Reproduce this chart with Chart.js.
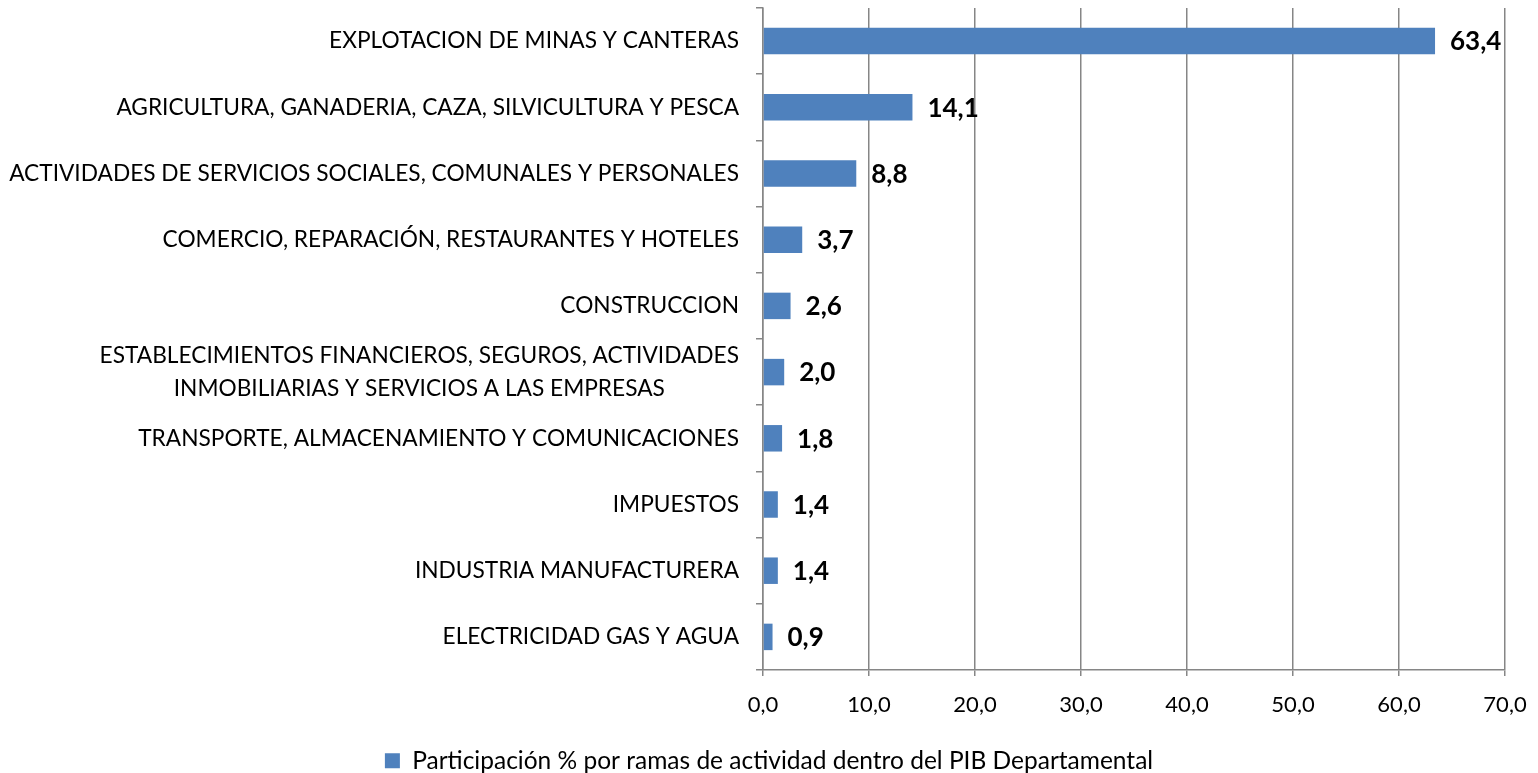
<!DOCTYPE html>
<html>
<head>
<meta charset="utf-8">
<script src="https://cdn.jsdelivr.net/npm/chart.js@4/dist/chart.umd.min.js"></script>
<style>
  html, body { margin: 0; padding: 0; background: #fff; }
  #wrap { width: 1538px; height: 773px; }
</style>
</head>
<body>
<div id="wrap"><canvas id="pibChart" width="1538" height="773"></canvas></div>
<script>
// categories, top to bottom
var ramas = [
  "EXPLOTACION DE MINAS Y CANTERAS",
  "AGRICULTURA, GANADERIA, CAZA, SILVICULTURA Y PESCA",
  "ACTIVIDADES DE SERVICIOS SOCIALES, COMUNALES Y PERSONALES",
  "COMERCIO, REPARACIÓN, RESTAURANTES Y HOTELES",
  "CONSTRUCCION",
  ["ESTABLECIMIENTOS FINANCIEROS, SEGUROS, ACTIVIDADES", "INMOBILIARIAS Y SERVICIOS A LAS EMPRESAS"],
  "TRANSPORTE, ALMACENAMIENTO Y COMUNICACIONES",
  "IMPUESTOS",
  "INDUSTRIA MANUFACTURERA",
  "ELECTRICIDAD GAS Y AGUA"
];
var participacion = [63.4, 14.1, 8.8, 3.7, 2.6, 2.0, 1.8, 1.4, 1.4, 0.9];
var serieNombre = "Participación % por ramas de actividad dentro del PIB Departamental";
var ejeMin = 0;
var ejeMax = 70;
var ejePaso = 10;

Chart.defaults.font.family = "Lato, 'Open Sans', sans-serif";
Chart.defaults.color = "#000";

function coma(v) {
  return Number(v).toFixed(1).replace(".", ",");
}

// category labels: right aligned block, multi-line centered inside it
var etiquetasY = {
  id: "etiquetasY",
  afterDraw: function(chart) {
    var ctx = chart.ctx;
    var y = chart.scales.y;
    var derecha = y.right - 24;
    var lh = 33;
    ctx.save();
    ctx.font = "22.7px Lato";
    ctx.fillStyle = "#000";
    ctx.textBaseline = "middle";
    ctx.textAlign = "center";
    ramas.forEach(function(lbl, i) {
      var cy = y.getPixelForValue(i);
      var lineas = Array.isArray(lbl) ? lbl : [lbl];
      var ancho = Math.max.apply(null, lineas.map(function(t) { return ctx.measureText(t).width; }));
      var cx = derecha - ancho / 2;
      lineas.forEach(function(t, k) {
        ctx.fillText(t, cx, cy + (k - (lineas.length - 1) / 2) * lh);
      });
    });
    ctx.restore();
  }
};

// value labels to the right of each bar
var valores = {
  id: "valores",
  afterDatasetsDraw: function(chart) {
    var ctx = chart.ctx;
    var meta = chart.getDatasetMeta(0);
    ctx.save();
    ctx.font = "bold 26px Lato";
    ctx.fillStyle = "#000";
    ctx.textAlign = "left";
    ctx.textBaseline = "middle";
    meta.data.forEach(function(bar, i) {
      ctx.fillText(coma(participacion[i]), bar.x + 15, bar.y + 1);
    });
    ctx.restore();
  }
};

const ctx = document.getElementById("pibChart");
const pibChart = new Chart(ctx, {
  type: "bar",
  data: {
    labels: ramas,
    datasets: [{
      label: serieNombre,
      data: participacion,
      backgroundColor: "#4F81BD",
      borderWidth: 0,
      categoryPercentage: 1.0,
      barPercentage: 0.4
    }]
  },
  options: {
    indexAxis: "y",
    responsive: false,
    animation: false,
    layout: { padding: { top: 8, right: 0, left: 0, bottom: -10 } },
    scales: {
      x: {
        min: ejeMin,
        max: ejeMax,
        ticks: {
          stepSize: ejePaso,
          font: { size: 22 },
          color: "#000",
          padding: 16,
          callback: function(v) { return coma(v); }
        },
        grid: { color: "#868686", lineWidth: 1.5, tickLength: 6 },
        border: { color: "#868686", width: 1.5 },
        afterFit: function(scale) {
          scale.height = 68.5;
          scale.paddingLeft = 0;
          scale.paddingRight = 33;
        }
      },
      y: {
        ticks: { display: false },
        grid: { color: "#868686", lineWidth: 1.5, drawOnChartArea: false, tickLength: 7, offset: true },
        border: { color: "#868686", width: 1.5 },
        afterFit: function(scale) { scale.width = 763; }
      }
    },
    plugins: {
      legend: {
        position: "bottom",
        labels: {
          font: { size: 24.5 },
          color: "#000",
          boxWidth: 15,
          boxHeight: 15,
          padding: 10
        }
      },
      tooltip: { enabled: false }
    }
  },
  plugins: [etiquetasY, valores]
});
</script>
</body>
</html>
